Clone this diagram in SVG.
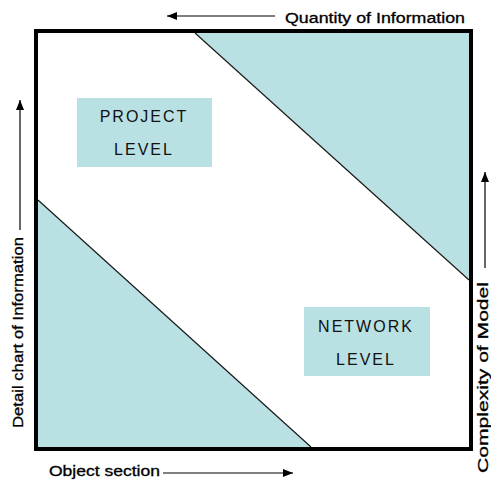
<svg xmlns="http://www.w3.org/2000/svg" width="491" height="482" viewBox="0 0 491 482">
  <style>
    .zone { fill: #b9e0e3; stroke: none; }
    .edge { stroke: #1a1a1a; stroke-width: 1.2; fill: none; }
    .frame { fill: none; stroke: #000; stroke-width: 4; }
    .box { fill: #b9e0e3; }
    .lvl { font-family: "Liberation Sans", Arial, sans-serif; font-size: 16px; fill: #111; text-anchor: middle; letter-spacing: 2px; }
    .axis { font-family: "Liberation Sans", Arial, sans-serif; font-size: 14px; fill: #000; stroke: #000; stroke-width: 0.3; }
    .arrow { stroke: #000; stroke-width: 1.2; fill: none; }
  </style>
  <defs>
    <marker id="head" viewBox="0 0 10 8" refX="10" refY="4" markerWidth="10" markerHeight="8" markerUnits="userSpaceOnUse" orient="auto">
      <path d="M0,0 L10,4 L0,8 Z" fill="#000"/>
    </marker>
  </defs>

  <rect width="491" height="482" fill="#fff"/>

  <!-- shaded corner regions -->
  <g id="regions">
    <polygon class="zone" points="195,33 469,33 469,280"/>
    <line class="edge" x1="195" y1="33" x2="469" y2="280"/>
    <polygon class="zone" points="38,200 38,447 311,447"/>
    <line class="edge" x1="38" y1="200" x2="311" y2="447"/>
  </g>

  <!-- outer frame -->
  <rect class="frame" x="36" y="31" width="435" height="418"/>

  <g id="project-level">
    <rect class="box" x="77" y="98" width="135" height="69"/>
    <text class="lvl" x="144" y="122">PROJECT</text>
    <text class="lvl" x="144" y="155">LEVEL</text>
  </g>

  <g id="network-level">
    <rect class="box" x="304" y="307" width="126" height="69"/>
    <text class="lvl" x="366" y="332">NETWORK</text>
    <text class="lvl" x="366" y="365">LEVEL</text>
  </g>

  <!-- axis arrows -->
  <g id="connectors">
    <line class="arrow" x1="275" y1="16" x2="167" y2="16" marker-end="url(#head)"/>
    <line class="arrow" x1="20" y1="230" x2="20" y2="100" marker-end="url(#head)"/>
    <line class="arrow" x1="163" y1="473" x2="293" y2="473" marker-end="url(#head)"/>
    <line class="arrow" x1="485" y1="268" x2="485" y2="172" marker-end="url(#head)"/>
  </g>

  <!-- axis captions -->
  <g id="captions">
    <text class="axis" x="285" y="23" textLength="180" lengthAdjust="spacingAndGlyphs">Quantity of Information</text>
    <text class="axis" transform="translate(23,428) rotate(-90)" textLength="191" lengthAdjust="spacingAndGlyphs">Detail chart of Information</text>
    <text class="axis" transform="translate(488,473) rotate(-90)" textLength="191" lengthAdjust="spacingAndGlyphs">Complexity of Model</text>
    <text class="axis" x="49" y="476" textLength="111" lengthAdjust="spacingAndGlyphs">Object section</text>
  </g>
</svg>
